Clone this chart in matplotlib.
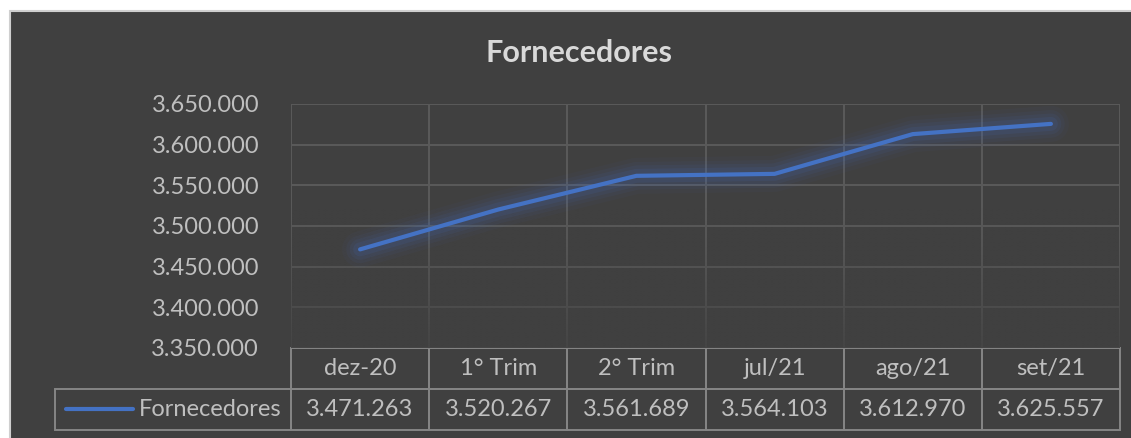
import matplotlib

matplotlib.use("Agg")
import matplotlib.pyplot as plt
import numpy as np
from matplotlib.lines import Line2D
from matplotlib.patches import Rectangle
from matplotlib.table import Table
from matplotlib.ticker import FuncFormatter, FixedLocator

plt.rcParams["font.family"] = ["Lato", "DejaVu Sans"]

CATEGORIES = ["dez-20", "1° Trim", "2° Trim", "jul/21", "ago/21", "set/21"]
FORNECEDORES = [3471263, 3520267, 3561689, 3564103, 3612970, 3625557]
SERIES_NAME = "Fornecedores"
Y_TICKS = [3350000, 3400000, 3450000, 3500000, 3550000, 3600000, 3650000]

BG = "#404040"
GRID = "#5a5a5a"
TEXT = "#bfbfbf"
BORDER = "#858585"
BLUE = "#4472c4"
FS = 17

W, H = 1131, 438


def br(v):
    return f"{int(v):,}".replace(",", ".")


fig = plt.figure(figsize=(W / 100, H / 100), dpi=100, facecolor="white")
fig.add_artist(Rectangle((10 / W, -0.01), 1.02, 1 - 11 / H + 0.01,
                         transform=fig.transFigure, facecolor=BG,
                         edgecolor="#cfcfcf", lw=1.5, zorder=-10))

ax = fig.add_axes([291 / W, 1 - 348 / H, (1120 - 291) / W, (348 - 104) / H])
ax.set_facecolor(BG)
ax.patch.set_alpha(0)
for s in ax.spines.values():
    s.set_visible(False)

x = np.arange(len(CATEGORIES))
ax.set_xlim(-0.5, len(CATEGORIES) - 0.5)
ax.set_ylim(Y_TICKS[0], Y_TICKS[-1])
ax.set_yticks(Y_TICKS)
ax.yaxis.set_major_formatter(FuncFormatter(lambda v, _: br(v)))
ax.tick_params(axis="y", length=0, pad=23, labelsize=FS, labelcolor=TEXT)
ax.set_xticks([])
ax.xaxis.set_minor_locator(FixedLocator(np.arange(-0.5, len(CATEGORIES), 1.0)))
ax.tick_params(axis="x", which="minor", length=0)
ax.set_axisbelow(True)
ax.grid(True, axis="y", which="major", color=GRID, lw=1.4)
ax.grid(True, axis="x", which="minor", color=GRID, lw=1.4)

# lower part of the plot area fades into the background
fade = np.zeros((100, 2, 4))
fade[..., :3] = matplotlib.colors.to_rgb(BG)
fade[..., 3] = np.linspace(0.0, 0.85, 100)[:, None] ** 1.3
ax.imshow(fade, extent=(-0.5, len(CATEGORIES) - 0.5, Y_TICKS[0], 3525000),
          origin="upper", aspect="auto", zorder=1, interpolation="bilinear")

# soft glow, then the line itself
for lw, a in [(26, 0.04), (20, 0.06), (15, 0.08), (10, 0.11)]:
    ax.plot(x, FORNECEDORES, color=BLUE, lw=lw, alpha=a,
            solid_capstyle="round", solid_joinstyle="round", zorder=2)
ax.plot(x, FORNECEDORES, color=BLUE, lw=3.0, solid_capstyle="round",
        solid_joinstyle="round", zorder=3)

fig.text(579 / W, 1 - 53 / H, "Fornecedores", ha="center", va="center",
         fontsize=22, fontweight="bold", color="#d9d9d9")

# data table under the chart (axes fraction units)
row_lab_w = (291 - 55) / (1120 - 291)
row_h = (430 - 348) / 2 / (348 - 104)
col_w = 1 / len(CATEGORIES)
tab = Table(ax, bbox=[-row_lab_w, -2 * row_h, 1 + row_lab_w, 2 * row_h])
for j, cat in enumerate(CATEGORIES):
    tab.add_cell(0, j + 1, col_w, row_h, text=cat, loc="center")
    tab.add_cell(1, j + 1, col_w, row_h, text=br(FORNECEDORES[j]), loc="center")
lab = tab.add_cell(1, 0, row_lab_w, row_h, text=SERIES_NAME, loc="right")
lab.PAD = 0.04
corner = tab.add_cell(0, 0, row_lab_w, row_h, text="")
corner.set_visible(False)
tab.auto_set_font_size(False)
tab.set_fontsize(FS)
for (r, c), cell in tab.get_celld().items():
    cell.set_facecolor("none")
    cell.set_edgecolor(BORDER)
    cell.set_linewidth(1.4)
    cell.get_text().set_color(TEXT)
ax.add_table(tab)

# legend key inside the row-label cell
fig.add_artist(Line2D([66 / W, 133 / W], [1 - 409 / H] * 2,
                      transform=fig.transFigure, color=BLUE, lw=3.0,
                      solid_capstyle="round"))

fig.savefig("out.png", dpi=100, facecolor=fig.get_facecolor())
